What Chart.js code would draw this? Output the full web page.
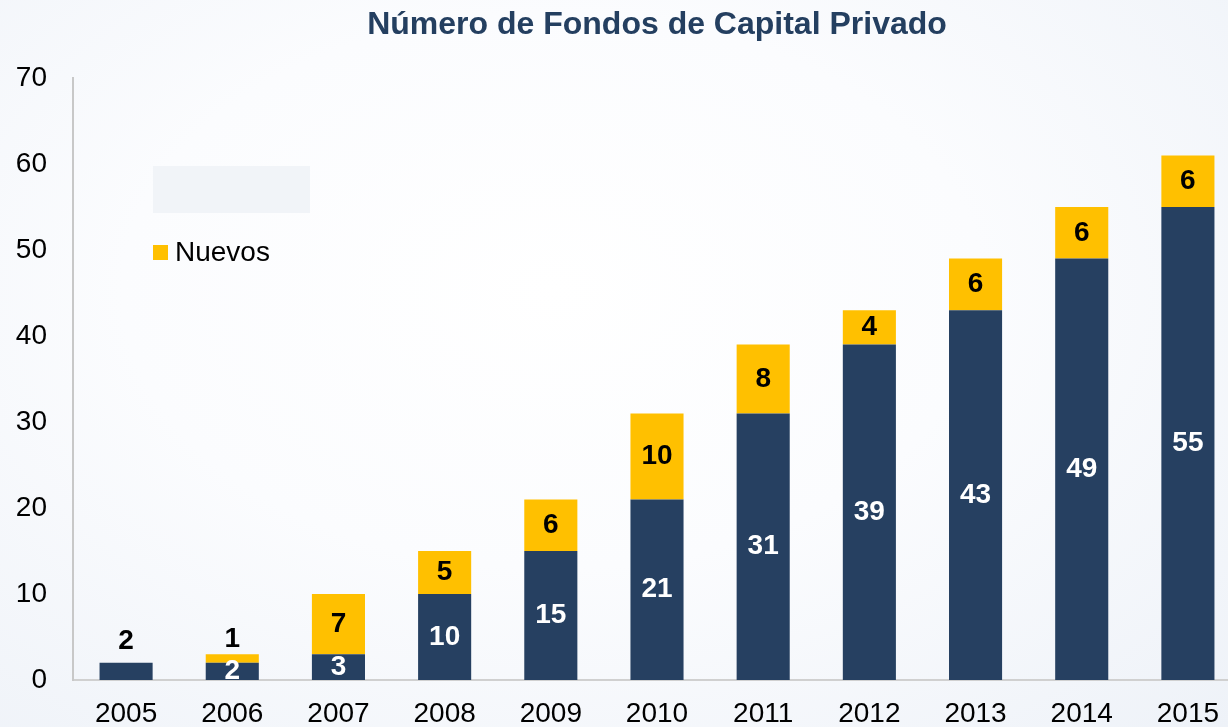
<!DOCTYPE html>
<html lang="es">
<head>
<meta charset="utf-8">
<script src="https://cdn.jsdelivr.net/npm/chart.js@4.4.0/dist/chart.umd.min.js"></script>
<style>
  html, body { margin: 0; padding: 0; overflow: hidden; }
  body {
    width: 1228px; height: 727px;
    background: radial-gradient(ellipse at 45% 40%, #ffffff 0%, #fbfcfe 45%, #eef2f8 100%);
    font-family: "Liberation Sans", Arial, sans-serif;
  }
  #wrap { position: absolute; left: 0; top: 0; width: 1246px; height: 727px; }
  .leyenda-vacia { position: absolute; left: 153px; top: 166px; width: 157px; height: 47px; background: #f1f4f8; }
  .leyenda { position: absolute; left: 153px; top: 236px; height: 32px; font-size: 28px; line-height: 32px; color: #000; display: flex; align-items: center; }
  .leyenda span.caja { display: inline-block; width: 15px; height: 15px; background: #FFC000; margin-right: 7px; }
</style>
</head>
<body>
<div id="wrap"><canvas id="grafico" width="1246" height="727"></canvas></div>
<div class="leyenda-vacia"></div>
<div class="leyenda"><span class="caja"></span>Nuevos</div>
<script>
// Datos del gráfico
const titulo = 'Número de Fondos de Capital Privado';
const anios = ['2005', '2006', '2007', '2008', '2009', '2010', '2011', '2012', '2013', '2014', '2015'];
const existentes = [2, 2, 3, 10, 15, 21, 31, 39, 43, 49, 55];
const nuevos = [0, 1, 7, 5, 6, 10, 8, 4, 6, 6, 6];
const ticksY = [0, 10, 20, 30, 40, 50, 60, 70];

const azul = '#264061';
const amarillo = '#FFC000';
const fuente = '"Liberation Sans", Arial, sans-serif';

// Plugin: título centrado sobre el área del gráfico
const tituloPlugin = {
    id: 'tituloCentrado',
    afterDraw(chart) {
        const { ctx, chartArea } = chart;
        ctx.save();
        ctx.font = 'bold 32px ' + fuente;
        ctx.fillStyle = '#243F60';
        ctx.textAlign = 'center';
        ctx.textBaseline = 'middle';
        ctx.fillText(titulo, (chartArea.left + chartArea.right) / 2, 25);
        ctx.restore();
    }
};

// Plugin: etiquetas de valores en las barras
const etiquetasPlugin = {
    id: 'etiquetas',
    afterDatasetsDraw(chart) {
        const { ctx } = chart;
        ctx.save();
        ctx.font = 'bold 28px ' + fuente;
        ctx.textAlign = 'center';
        ctx.textBaseline = 'middle';
        chart.data.datasets.forEach((ds, i) => {
            const meta = chart.getDatasetMeta(i);
            meta.data.forEach((bar, j) => {
                const v = ds.data[j];
                if (!v) return;
                const alto = bar.base - bar.y;
                const esAzul = i === 0;
                const siguiente = chart.data.datasets[i + 1];
                const tapada = esAzul && siguiente && siguiente.data[j];
                let y = (bar.y + bar.base) / 2;
                let color = esAzul ? '#ffffff' : '#000000';
                // barra demasiado pequeña: etiqueta encima
                if (alto < 20 && !tapada) {
                    y = bar.y - (esAzul ? 22 : 15);
                    color = '#000000';
                }
                ctx.fillStyle = color;
                ctx.fillText(String(v), bar.x, y);
            });
        });
        ctx.restore();
    }
};

new Chart(document.getElementById('grafico'), {
    type: 'bar',
    data: {
        labels: anios,
        datasets: [
            { label: 'Existentes', data: existentes, backgroundColor: azul, categoryPercentage: 1, barPercentage: 0.5 },
            { label: 'Nuevos', data: nuevos, backgroundColor: amarillo, categoryPercentage: 1, barPercentage: 0.5 }
        ]
    },
    options: {
        responsive: false,
        animation: false,
        layout: { padding: { top: 78, left: 0, right: 5, bottom: 0 } },
        plugins: {
            legend: { display: false },
            tooltip: { enabled: false }
        },
        scales: {
            x: {
                stacked: true,
                grid: { display: false, drawTicks: false },
                border: { color: '#d0d0d0', width: 2 },
                ticks: {
                    color: '#000',
                    padding: 17,
                    font: { family: fuente, size: 28 }
                },
                afterFit(scale) { scale.height = 47; }
            },
            y: {
                stacked: true,
                min: 0,
                max: 70,
                afterBuildTicks(scale) { scale.ticks = ticksY.map(v => ({ value: v })); },
                grid: { display: false, drawTicks: false },
                border: { color: '#c8c8c8', width: 2 },
                ticks: {
                    color: '#000',
                    padding: 26,
                    font: { family: fuente, size: 28 }
                },
                afterFit(scale) { scale.width = 73; }
            }
        }
    },
    plugins: [tituloPlugin, etiquetasPlugin]
});
</script>
</body>
</html>
